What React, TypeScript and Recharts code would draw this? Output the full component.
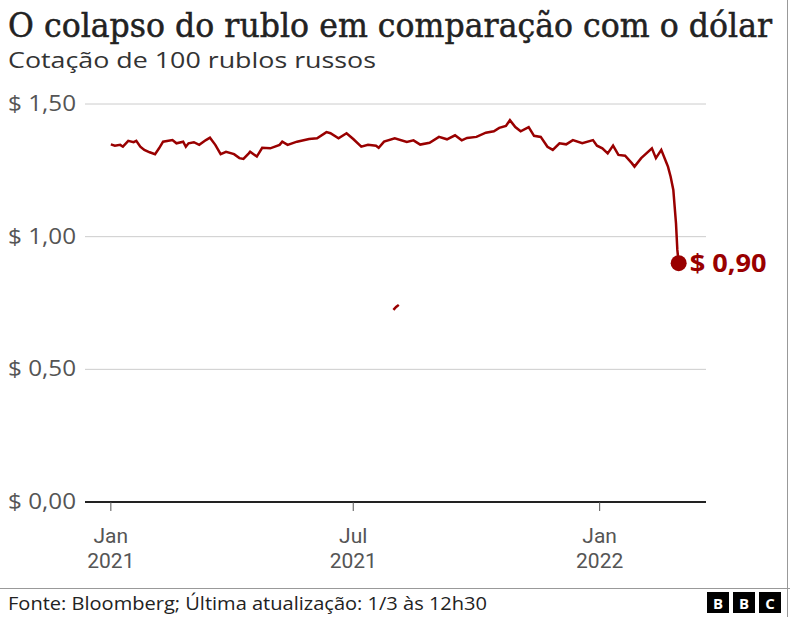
import { LineChart, Line, XAxis, YAxis, CartesianGrid } from 'recharts';

// cotação de 100 rublos em dólares
const dates = [
  '2021-01-01', '2021-01-04', '2021-01-08', '2021-01-10', '2021-01-14', '2021-01-18',
  '2021-01-20', '2021-01-23', '2021-01-26', '2021-01-30', '2021-02-03', '2021-02-06',
  '2021-02-09', '2021-02-16', '2021-02-19', '2021-02-24', '2021-02-26', '2021-02-28',
  '2021-03-04', '2021-03-08', '2021-03-13', '2021-03-16', '2021-03-20', '2021-03-24',
  '2021-03-28', '2021-04-03', '2021-04-07', '2021-04-10', '2021-04-14', '2021-04-15',
  '2021-04-20', '2021-04-24', '2021-04-30', '2021-05-07', '2021-05-09', '2021-05-13',
  '2021-05-20', '2021-05-29', '2021-06-04', '2021-06-11', '2021-06-14', '2021-06-20',
  '2021-06-26', '2021-07-01', '2021-07-07', '2021-07-12', '2021-07-18', '2021-07-20',
  '2021-07-24', '2021-08-01', '2021-08-10', '2021-08-15', '2021-08-20', '2021-08-27',
  '2021-09-03', '2021-09-09', '2021-09-15', '2021-09-20', '2021-09-24', '2021-10-01',
  '2021-10-08', '2021-10-14', '2021-10-18', '2021-10-23', '2021-10-26', '2021-10-30',
  '2021-11-03', '2021-11-09', '2021-11-13', '2021-11-18', '2021-11-23', '2021-11-27',
  '2021-12-02', '2021-12-07', '2021-12-12', '2021-12-19', '2021-12-27', '2021-12-30',
  '2022-01-03', '2022-01-07', '2022-01-11', '2022-01-15', '2022-01-20', '2022-01-25',
  '2022-01-27', '2022-02-01', '2022-02-09', '2022-02-12', '2022-02-16', '2022-02-20',
  '2022-02-21', '2022-02-23', '2022-02-25', '2022-02-27', '2022-02-28', '2022-03-01',
];
const rubleValues = [
  1.348, 1.343, 1.346, 1.339, 1.361, 1.356,
  1.361, 1.339, 1.327, 1.318, 1.311, 1.333,
  1.358, 1.364, 1.352, 1.358, 1.339, 1.352,
  1.356, 1.346, 1.364, 1.373, 1.346, 1.311,
  1.32, 1.311, 1.296, 1.293, 1.314, 1.32,
  1.302, 1.335, 1.333, 1.346, 1.358, 1.346,
  1.358, 1.368, 1.371, 1.394, 1.39, 1.371,
  1.39, 1.368, 1.339, 1.346, 1.343, 1.335,
  1.358, 1.371, 1.357, 1.363, 1.347, 1.354,
  1.376, 1.367, 1.382, 1.363, 1.372, 1.376,
  1.392, 1.397, 1.41, 1.417, 1.439, 1.413,
  1.397, 1.413, 1.38, 1.376, 1.339, 1.327,
  1.352, 1.348, 1.364, 1.352, 1.364, 1.343,
  1.333, 1.314, 1.343, 1.308, 1.305, 1.277,
  1.264, 1.296, 1.333, 1.296, 1.327, 1.277,
  1.264, 1.226, 1.176, 1.05, 0.95, 0.9,
];

// trecho solto que aparece no original
const glitchDates = ['2021-07-31', '2021-08-02', '2021-08-04'];
const glitchValues = [0.724, 0.735, 0.743];

const yTicks = [0, 0.5, 1, 1.5];
const tickDates = ['2021-01-01', '2021-07-01', '2022-01-01'];
const tickMonths = ['Jan', 'Jul', 'Jan'];
const tickYears = ['2021', '2021', '2022'];

const RED = '#990000';
const SANS = '"Open Sans", "Noto Sans", sans-serif';
const DAY = 86400000;

const toTime = (d: string) => Date.parse(d + 'T00:00:00Z');

const series = dates.map((d, i) => ({ t: toTime(d), v: rubleValues[i] }));
const glitch = glitchDates.map((d, i) => ({ t: toTime(d), v: glitchValues[i] }));
const start = toTime(tickDates[0]);

const formatDollar = (v: number) => '$ ' + v.toFixed(2).replace('.', ',');

function MonthTick(props: any) {
  const { x, index } = props;
  return (
    <text x={x} y={543} textAnchor="middle" fontSize={21} fill="#555" fontFamily="Roboto, sans-serif">
      <tspan x={x}>{tickMonths[index]}</tspan>
      <tspan x={x} dy={25}>
        {tickYears[index]}
      </tspan>
    </text>
  );
}

function DollarTick(props: any) {
  const { y, payload } = props;
  return (
    <text
      x={8}
      y={y + 7}
      fontSize={21}
      fill="#555"
      fontFamily={SANS}
      textLength={68}
      lengthAdjust="spacingAndGlyphs"
    >
      {formatDollar(payload.value)}
    </text>
  );
}

function LastDot(props: any) {
  const { cx, cy, index } = props;
  if (index !== series.length - 1) return <g key={index} />;
  return (
    <g key={index}>
      <circle cx={cx} cy={cy} r={8} fill={RED} />
      <text
        x={cx + 11}
        y={cy + 9}
        fontSize={25}
        fontWeight={700}
        fill={RED}
        fontFamily={SANS}
        textLength={77}
        lengthAdjust="spacingAndGlyphs"
      >
        {formatDollar(rubleValues[index])}
      </text>
    </g>
  );
}

export default function App() {
  return (
    <div
      style={{
        position: 'absolute',
        left: 0,
        top: 0,
        width: 790,
        height: 617,
        background: '#fff',
        overflow: 'hidden',
      }}
    >
      <svg width={790} height={617} style={{ position: 'absolute', left: 0, top: 0 }}>
        <g transform="translate(8 37) scale(0.85 1)">
          <text
            x={0}
            y={0}
            fontSize={34}
            fill="#222"
            stroke="#222"
            strokeWidth={0.5}
            fontFamily='"DejaVu Serif", serif'
            textLength={899}
            lengthAdjust="spacingAndGlyphs"
          >
            O colapso do rublo em comparação com o dólar
          </text>
        </g>
        <text x={8} y={68} fontSize={22} fill="#333" fontFamily={SANS} textLength={368} lengthAdjust="spacingAndGlyphs">
          Cotação de 100 rublos russos
        </text>
        <line x1={0} x2={790} y1={588.5} y2={588.5} stroke="#999" strokeWidth={1} />
        <line x1={787.5} x2={787.5} y1={0} y2={617} stroke="#999" strokeWidth={1} />
        <text x={8} y={610} fontSize={18} fill="#222" fontFamily={SANS} textLength={479} lengthAdjust="spacingAndGlyphs">
          Fonte: Bloomberg; Última atualização: 1/3 às 12h30
        </text>
        {['B', 'B', 'C'].map((l, i) => (
          <g key={i}>
            <rect x={707 + i * 26} y={592} width={22} height={21} fill="#000" />
            <text
              x={718 + i * 26}
              y={608.5}
              textAnchor="middle"
              fontSize={15}
              fontWeight={700}
              fill="#fff"
              fontFamily={SANS}
            >
              {l}
            </text>
          </g>
        ))}
      </svg>
      <div style={{ position: 'absolute', left: 0, top: 0 }}>
        <LineChart width={790} height={617} margin={{ top: 104, right: 84, bottom: 0, left: 0 }}>
          <CartesianGrid horizontal vertical={false} stroke="#ccc" strokeWidth={1} />
          <XAxis
            dataKey="t"
            type="number"
            domain={[start - 19.3 * DAY, start + 444.4 * DAY]}
            ticks={tickDates.map(toTime)}
            axisLine={{ stroke: '#222', strokeWidth: 2 }}
            tickLine={{ stroke: '#555', strokeWidth: 1 }}
            tickSize={9}
            tick={<MonthTick />}
            height={115}
          />
          <YAxis
            type="number"
            domain={[0, 1.5]}
            ticks={yTicks}
            width={85}
            axisLine={false}
            tickLine={false}
            tick={<DollarTick />}
          />
          <Line
            data={series}
            dataKey="v"
            stroke={RED}
            strokeWidth={2.5}
            dot={<LastDot />}
            activeDot={false}
            isAnimationActive={false}
          />
          <Line
            data={glitch}
            dataKey="v"
            stroke={RED}
            strokeWidth={2.5}
            dot={false}
            activeDot={false}
            isAnimationActive={false}
          />
        </LineChart>
      </div>
    </div>
  );
}
